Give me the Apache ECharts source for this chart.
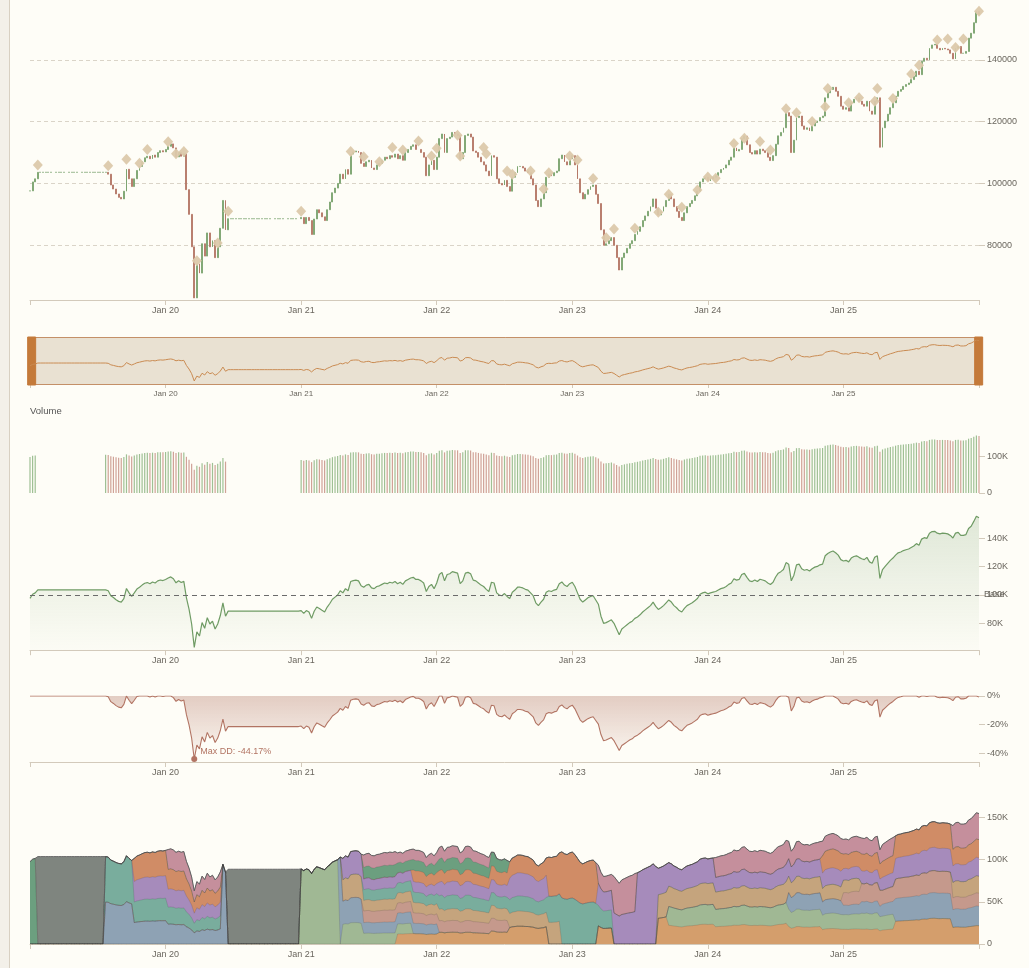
<!DOCTYPE html>
<html><head><meta charset="utf-8">
<script src="https://cdn.jsdelivr.net/npm/echarts@6/dist/echarts.min.js"></script>
<style>
html,body{margin:0;padding:0;background:#fefdf7;}
#strip{position:absolute;left:0;top:0;width:9px;height:968px;background:#f3f0e9;border-right:1px solid #d8d0c2;}
#chart{position:absolute;left:0;top:0;width:1029px;height:968px;}
</style></head><body>
<div id="strip"></div><div id="chart"></div>
<script>
// weekly closes / equity, in thousands (Jan 2019 .. Dec 2025)
const closesK = [
97.6,100.5,101.5,103.6,103.6,103.6,103.6,103.6,103.6,103.6,
103.6,103.6,103.6,103.6,103.6,103.6,103.6,103.6,103.6,103.6,
103.6,103.6,103.6,103.6,103.6,103.6,103.6,103.6,103.6,103.6,
103.0,99.5,98.2,96.6,95.5,95.0,97.5,104.6,101.5,99.0,
101.5,104.2,105.5,107.0,108.3,108.8,108.0,109.2,108.5,110.0,
110.6,110.2,111.0,112.0,112.8,111.5,108.6,110.0,108.8,109.6,
98.0,90.0,79.5,62.98,74.0,71.0,80.5,76.5,84.0,79.5,
81.5,76.0,79.5,85.5,94.5,85.0,88.6,88.6,88.6,88.6,
88.6,88.6,88.6,88.6,88.6,88.6,88.6,88.6,88.6,88.6,
88.6,88.6,88.6,88.6,88.6,88.6,88.6,88.6,88.6,88.6,
88.6,88.6,88.6,88.6,89.0,87.0,89.0,88.0,83.5,88.5,
91.5,90.5,89.2,88.0,91.5,94.0,97.0,98.5,100.0,103.0,
101.5,104.5,103.0,109.5,110.2,110.5,110.0,106.5,105.5,107.0,
107.5,105.0,104.5,106.0,106.5,107.5,108.5,108.0,109.0,108.5,
109.5,108.0,109.0,107.5,110.0,111.0,112.0,112.5,111.0,111.0,
110.0,108.5,102.5,106.0,107.5,104.5,108.5,114.5,116.0,110.0,
114.5,115.0,116.5,116.0,115.5,108.0,110.0,115.5,116.0,115.0,
110.5,110.0,108.5,107.0,106.0,104.0,102.5,109.0,108.5,101.5,
100.0,99.5,101.0,99.0,97.5,102.0,103.5,105.5,105.5,105.0,
104.0,103.5,101.5,99.5,94.5,92.5,95.0,97.0,102.0,103.0,
102.5,103.5,104.0,108.0,109.2,107.0,106.0,108.0,109.0,106.0,
101.5,97.0,95.0,96.5,98.0,99.0,99.5,96.5,93.5,85.0,
80.0,80.5,81.5,82.5,80.0,76.0,72.0,76.0,77.5,79.0,
80.5,81.5,83.5,84.5,86.0,88.0,89.5,91.0,92.5,95.0,
92.0,89.8,91.0,92.5,94.5,96.5,95.0,92.5,91.0,89.0,
88.0,90.5,92.5,93.5,94.5,96.0,97.5,100.5,101.5,102.0,
100.8,101.5,102.0,102.5,103.5,104.5,105.0,106.0,107.5,108.5,
111.5,110.5,111.0,114.5,115.3,112.5,110.0,109.5,110.6,109.5,
111.1,110.6,110.0,108.5,107.4,109.0,112.7,115.4,116.5,118.0,
122.9,121.8,110.0,114.0,121.3,121.8,118.6,117.5,118.0,117.0,
118.6,119.7,120.2,121.3,121.8,127.7,129.3,130.4,131.1,129.8,
128.2,125.0,124.0,124.5,123.4,126.1,127.2,127.7,126.6,125.6,
125.0,126.6,123.4,122.4,126.6,127.7,111.7,118.0,120.2,122.4,
124.5,126.1,128.2,129.8,130.4,131.4,132.0,132.5,133.6,134.6,
136.3,135.2,139.5,140.5,140.0,143.7,144.8,145.0,143.7,143.2,
143.7,143.5,143.2,142.1,140.3,143.7,144.3,142.1,142.1,142.7,
147.0,148.6,152.0,155.6,154.6
];
// trade markers [week index, value in thousands]
const tradeMarks = [
[3,106],[30,105.7],[37,107.8],[42,106.5],[45,111],[53,113.5],[56,109.6],[59,110.3],[64,75],[72,80.7],[76,91],
[104,91],[123,110.3],[128,108.6],[134,107],[139,111.6],[143,110.8],[149,113.7],[154,108.9],[156,111.4],[164,115.6],
[165,108.9],[174,111.6],[175,109.6],[183,104],[185,103],[192,104],[197,98.2],[199,103.5],[207,108.9],[210,107.6],
[216,101.6],[221,82.4],[224,85.3],[232,85.5],[241,90.7],[245,96.5],[250,92.3],[256,97.9],[260,102.1],[263,101.7],
[270,112.9],[274,114.6],[280,113.6],[284,110.8],[290,124.2],[294,122.9],[300,120],[305,124.8],[306,130.7],[314,126.1],
[318,127.7],[324,126.6],[325,130.7],[331,127.5],[338,135.4],[341,138.2],[348,146.4],[352,146.7],[355,144],[358,146.7],[364,155.7]
];
const yearLabels = ['Jan 20','Jan 21','Jan 22','Jan 23','Jan 24','Jan 25'];

// allocation periods (start week) and weights (%) per holding
const periodStart = [0,3,29,40,53,74,76,104,119,120,128,141,147,157,177,184,199,204,218,224,233,241,245,263,291,304,312,319,327,332,354];
const wJ    = [0,0,0,0,0,0,0,0,0,0,0,11,11,12,14,20,0,0,23,0,0,34,23,20,17,14,14,14,14,21,14];
const wG    = [0,0,0,0,0,0,0,100,0,23,12,11,0,0,0,0,0,0,0,0,0,0,23,20,17,14,14,15,14,0,0];
const wB    = [0,0,48,25,21,100,0,0,100,27,12,12,11,0,0,0,0,0,0,0,0,0,0,0,16,13,9,11,12,21,15];
const wI    = [0,0,0,0,0,0,0,0,0,0,13,11,11,12,14,0,0,0,0,0,0,0,0,0,0,0,12,17,14,18,10];
const wH    = [0,0,0,0,0,0,0,0,0,25,12,11,11,12,14,17,25,0,0,0,0,31,25,20,16,13,12,0,0,0,13];
const wC    = [0,0,52,24,18,0,0,0,0,0,12,11,11,14,14,17,30,50,26,0,0,0,0,0,0,0,0,0,0,0,0];
const wD    = [0,0,0,24,19,0,0,0,0,25,12,11,11,14,14,26,0,0,28,46,100,35,29,17,17,15,11,12,13,19,14];
const wE    = [0,0,0,27,21,0,0,0,0,0,0,0,12,12,15,20,45,50,0,0,0,0,0,0,0,17,14,16,16,21,14];
const wA    = [100,0,0,0,0,0,0,0,0,0,13,11,11,12,15,0,0,0,0,0,0,0,0,0,0,0,0,0,0,0,0];
const wF    = [0,0,0,0,21,0,0,0,0,0,14,11,11,12,0,0,0,0,23,54,0,0,0,23,17,14,14,15,17,0,20];
const wCash = [0,100,0,0,0,0,100,0,0,0,0,0,0,0,0,0,0,0,0,0,0,0,0,0,0,0,0,0,0,0,0];
const holdingNames  = ['J','G','B','I','H','C','D','E','A','F','Cash'];
const holdingColors = ['#d49e6c','#a0b894','#8ea2b4','#c5998c','#c5a47d','#79ad9d','#a68bbb','#d08c66','#6c9f7f','#c58f9c','#7f857f'];
const holdingWeights = [wJ,wG,wB,wI,wH,wC,wD,wE,wA,wF,wCash];

// ---------- derived tables ----------
const XMAX = 364, XINT = 52;
const closes = closesK.map(v => v * 1000);
function periodOf(i){ let p = 0; for (let k = 0; k < periodStart.length; k++) if (periodStart[k] <= i) p = k; return p; }
const candleData = closes.map((c, i) => { const o = i ? closes[i-1] : c; return [i, o, c, Math.min(o,c), Math.max(o,c)]; });
const signs = candleData.map(d => d[2] > d[1] ? 1 : (d[2] < d[1] ? -1 : 1));
const volData = closes.map((c, i) => ({ value: [i, wCash[periodOf(i)] === 100 ? 0 : c], itemStyle: { color: signs[i] > 0 ? '#9fc094' : '#d0a297' } }));
const equityData = closes.map((c, i) => [i, c]);
let peak = -Infinity, ddMin = 0, ddMinIdx = 0;
const ddData = closes.map((c, i) => { peak = Math.max(peak, c); const d = (c / peak - 1) * 100; if (d < ddMin) { ddMin = d; ddMinIdx = i; } return [i, d]; });
const markData = tradeMarks.map(m => [m[0], m[1] * 1000]);
// cumulative allocation values (bottom -> top)
const cumAlloc = holdingNames.map((_, k) => closes.map((c, i) => {
  const p = periodOf(i); let s = 0; for (let j = 0; j <= k; j++) s += holdingWeights[j][p]; return [i, c * s / 100];
}));

const axisCol = '#d3cabb', labCol = '#6a665e';
function yearFmt(v){ const k = Math.round(v / XINT); return (k >= 1 && k <= yearLabels.length && Math.abs(v - k*XINT) < 0.01) ? yearLabels[k-1] : ''; }
function xAx(gi, extra){
  return Object.assign({
    type:'value', gridIndex:gi, min:0, max:XMAX, interval:XINT,
    axisLine:{show:true, onZero:false, lineStyle:{color:axisCol}},
    axisTick:{show:true, length:5, lineStyle:{color:axisCol}},
    axisLabel:{color:labCol, fontSize:9, margin:6, formatter:yearFmt},
    splitLine:{show:false}
  }, extra || {});
}
function yAx(gi, min, max, step, fmt, showMin, showMax, extra){
  return Object.assign({
    type:'value', gridIndex:gi, position:'right', min:min, max:max, minInterval:step, maxInterval:step,
    axisLine:{show:false, onZero:false},
    axisTick:{show:true, length:6, lineStyle:{color:axisCol}},
    axisLabel:{color:labCol, fontSize:9, margin:8, formatter:fmt, showMinLabel:showMin, showMaxLabel:showMax},
    splitLine:{show:false}
  }, extra || {});
}
const kFmt = v => v === 0 ? '0' : (v/1000) + 'K';

const series = [
  { type:'candlestick', xAxisIndex:0, yAxisIndex:0, data:candleData, barWidth:1.4,
    dimensions:['t','open','close','lowest','highest'], encode:{x:'t', y:['open','close','lowest','highest']},
    itemStyle:{color:'#7da571', color0:'#b57868', borderColor:'#7da571', borderColor0:'#b57868', borderWidth:0.9} },
  { type:'scatter', xAxisIndex:0, yAxisIndex:0, data:markData, symbol:'diamond', symbolSize:[10,11],
    itemStyle:{color:'#dcc9ab', opacity:0.95}, z:3 },
  { type:'bar', xAxisIndex:1, yAxisIndex:1, data:volData, barWidth:1.2 },
  { type:'line', xAxisIndex:2, yAxisIndex:2, data:equityData, showSymbol:false, lineStyle:{color:'#6f9b64', width:1.2},
    areaStyle:{origin:'start', color:new echarts.graphic.LinearGradient(0,0,0,1,[{offset:0,color:'rgba(111,155,100,0.30)'},{offset:1,color:'rgba(111,155,100,0.02)'}])},
    markLine:{silent:true, symbol:['none','none'], data:[{yAxis:100000}], lineStyle:{type:[5,4], color:'#6b6b6b', width:1},
      label:{show:true, position:'end', formatter:'Base', color:labCol, fontSize:9}} },
  { type:'line', xAxisIndex:3, yAxisIndex:3, data:ddData, showSymbol:false, lineStyle:{color:'#b27463', width:1.1},
    areaStyle:{color:new echarts.graphic.LinearGradient(0,0,0,1,[{offset:0,color:'rgba(178,116,99,0.50)'},{offset:1,color:'rgba(178,116,99,0.06)'}])},
    markPoint:{symbol:'circle', symbolSize:6, itemStyle:{color:'#b27463'},
      data:[{coord:[ddMinIdx, ddMin]}],
      label:{show:true, position:[9,-9], formatter:'Max DD: ' + ddMin.toFixed(2) + '%', color:'#b27463', fontSize:9}} },
  { type:'line', xAxisIndex:5, yAxisIndex:5, data:equityData, showSymbol:false, z:10, lineStyle:{color:'#c98b52', width:1} }
];
// draw from the top cumulative layer down so each band shows between its neighbours
for (let k = holdingNames.length - 1; k >= 0; k--) {
  series.push({
    type:'line', name:holdingNames[k], xAxisIndex:4, yAxisIndex:4, showSymbol:false,
    data: cumAlloc[k],
    lineStyle: holdingNames[k] === 'Cash' ? {color:'#6a6a6a', width:1} : {color:'rgba(60,60,60,0.28)', width:0.6},
    areaStyle:{color:holdingColors[k], opacity:1}, itemStyle:{color:holdingColors[k]}
  });
}

const chart = echarts.init(document.getElementById('chart'), null, {renderer:'canvas'});
chart.setOption({
  animation:false,
  backgroundColor:'transparent',
  textStyle:{fontFamily:'Liberation Sans, Arial, sans-serif'},
  title:{text:'Volume', left:30, top:406, padding:0, textStyle:{fontSize:9.5, fontWeight:'normal', color:'#555'}},
  grid:[
    {left:30, right:50, top:6, height:294},
    {left:30, right:50, top:435, height:58},
    {left:30, right:50, top:511.5, height:138.7},
    {left:30, right:50, top:696, height:66},
    {left:30, right:50, top:809, height:135},
    {left:30, right:50, top:340, height:41}
  ],
  xAxis:[
    xAx(0),
    xAx(1, {show:false}),
    xAx(2),
    xAx(3),
    xAx(4),
    xAx(5, {offset:4, axisLine:{show:false, onZero:false}, axisTick:{show:true, length:3, lineStyle:{color:axisCol}}, axisLabel:{color:labCol, fontSize:8, margin:5, formatter:yearFmt}})
  ],
  yAxis:[
    yAx(0, 62300, 157400, 20000, v => String(v), false, false, {splitLine:{show:true, showMinLine:false, showMaxLine:false, lineStyle:{color:'#dad4c8', type:[4,3]}}}),
    yAx(1, 0, 157000, 100000, kFmt, true, false),
    yAx(2, 61000, 159000, 20000, kFmt, false, false),
    yAx(3, -46.3, 0, 20, v => v + '%', false, true),
    yAx(4, 0, 160000, 50000, kFmt, true, false),
    {type:'value', gridIndex:5, show:false, min:'dataMin', max:'dataMax', scale:true}
  ],
  dataZoom:[{
    type:'slider', xAxisIndex:5, left:30, right:50, top:337, height:48, start:0, end:100,
    showDataShadow:false, showDetail:false, brushSelect:false, moveHandleSize:0, zoomLock:true,
    backgroundColor:'rgba(0,0,0,0)', fillerColor:'rgba(200,178,150,0.38)', borderColor:'#c49068', borderRadius:0,
    handleIcon:'path://M0,0 L8,0 L8,48 L0,48 Z', handleSize:'100%',
    handleStyle:{color:'#c47a3a', borderColor:'#c47a3a'},
    emphasis:{handleStyle:{color:'#c47a3a', borderColor:'#c47a3a'}}
  }],
  series:series
});
</script>
</body></html>
